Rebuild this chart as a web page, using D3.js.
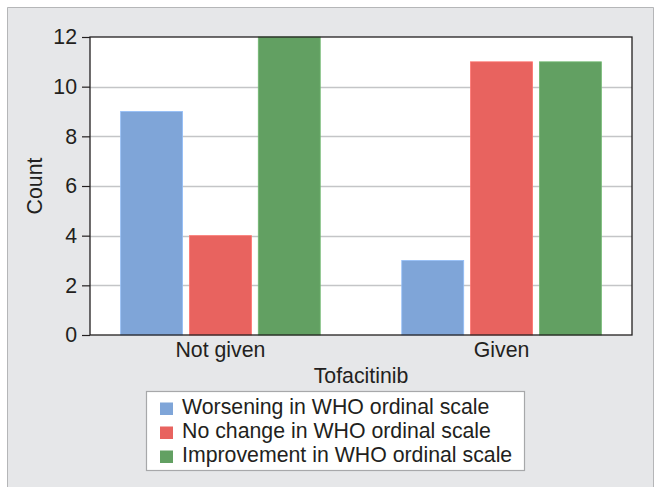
<!DOCTYPE html>
<html><head><meta charset="utf-8">
<script src="https://cdn.jsdelivr.net/npm/d3@7"></script>
<style>
body{margin:0;background:#fff;}
text{font-family:"Liberation Sans",Arial,sans-serif;fill:#231f20;}
</style></head>
<body>
<svg id="c" width="655" height="487"></svg>
<script>
const categories = ["Not given", "Given"];
const seriesNames = ["Worsening in WHO ordinal scale", "No change in WHO ordinal scale", "Improvement in WHO ordinal scale"];
const worsening = [9, 3];
const noChange = [4, 11];
const improvement = [12, 11];
const yTicks = [0, 2, 4, 6, 8, 10, 12];
const colors = ["#7fa5d8", "#e8635f", "#62a062"];
const xTitle = "Tofacitinib";
const yTitle = "Count";

const seriesValues = [worsening, noChange, improvement];
const svg = d3.select("#c");
const FS = "21.3px";

svg.append("rect").attr("x",0).attr("y",0).attr("width",655).attr("height",487).attr("fill","#fff");
svg.append("rect").attr("x",7).attr("y",7).attr("width",647).attr("height",480).attr("fill","#e6e7e9");
svg.append("path").attr("d","M7.5,487 V7.5 H653.5 V487").attr("fill","none").attr("stroke","#b5b6b8").attr("stroke-width",1);

const L=90, R=632, T=37, B=335;
svg.append("rect").attr("x",L).attr("y",T).attr("width",R-L).attr("height",B-T).attr("fill","#fff");

const y = d3.scaleLinear().domain([0,12]).range([B,T]);
const x0 = d3.scaleBand().domain(categories).range([L,R]).paddingInner(0.29).paddingOuter(0.109);
const x1 = d3.scaleBand().domain(d3.range(seriesNames.length)).range([0,x0.bandwidth()]).paddingInner(0.1);

svg.append("g").selectAll("line").data(yTicks.filter(d=>d>0 && d<12)).join("line")
  .attr("x1",L).attr("x2",R).attr("y1",d=>Math.round(y(d))+0.5).attr("y2",d=>Math.round(y(d))+0.5)
  .attr("stroke","#c4c5c7").attr("stroke-width",1.3);

const g = svg.append("g");
categories.forEach((c,ci)=>{
  seriesValues.forEach((vals,si)=>{
    g.append("rect")
      .attr("x", x0(c)+x1(si))
      .attr("y", y(vals[ci]))
      .attr("width", x1.bandwidth())
      .attr("height", y(0)-y(vals[ci]))
      .attr("fill", colors[si])
      .attr("stroke", d3.color(colors[si]).brighter(0.4))
      .attr("stroke-width", 0.8);
  });
});

svg.append("rect").attr("x",L).attr("y",T).attr("width",R-L).attr("height",B-T)
  .attr("fill","none").attr("stroke","#231f20").attr("stroke-width",1.3);

const ya = svg.append("g").attr("transform",`translate(${L},0)`)
  .call(d3.axisLeft(y).tickValues(yTicks).tickSize(8).tickPadding(5));
ya.select(".domain").remove();
ya.selectAll("line").attr("stroke","#231f20").attr("stroke-width",1.2);
ya.selectAll("text").attr("font-size",FS).style("font-family","'Liberation Sans',Arial,sans-serif").attr("fill","#231f20");

const xa = svg.append("g").attr("transform",`translate(0,${B})`)
  .call(d3.axisBottom(x0).tickSize(0).tickPadding(7));
xa.select(".domain").remove();
xa.selectAll("text").attr("font-size",FS).style("font-family","'Liberation Sans',Arial,sans-serif").attr("fill","#231f20");

svg.append("text").attr("x",(L+R)/2).attr("y",383).attr("text-anchor","middle").attr("font-size",FS).text(xTitle);
svg.append("text").attr("transform",`translate(42,${(T+B)/2}) rotate(-90)`).attr("text-anchor","middle").attr("font-size",FS).text(yTitle);

const lg = svg.append("g");
lg.append("rect").attr("x",146.5).attr("y",391.5).attr("width",378).attr("height",79).attr("fill","#fff").attr("stroke","#a7a8aa").attr("stroke-width",1.2);
seriesNames.forEach((n,i)=>{
  const base = 414 + i*24;
  lg.append("rect").attr("x",160).attr("y",base-11.5).attr("width",13).attr("height",12.5).attr("fill",colors[i]);
  lg.append("text").attr("x",182).attr("y",base).attr("font-size",FS).text(n);
});
</script>
</body></html>
